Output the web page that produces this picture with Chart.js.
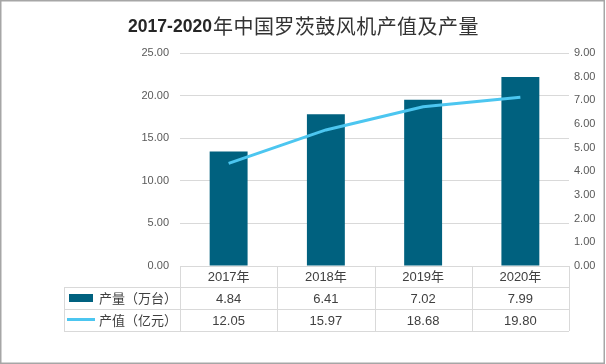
<!DOCTYPE html>
<html lang="zh">
<head>
  <meta charset="UTF-8" />
  <title>2017-2020年中国罗茨鼓风机产值及产量</title>
  <script src="https://cdn.jsdelivr.net/npm/chart.js"></script>
  <style>
    body { margin: 0; background: #fff; }
    canvas { display: block; }
  </style>
</head>
<body>
  <canvas id="chart" width="606" height="364"></canvas>
  <script>
    const titleYears = '2017-2020';
    const titleText = '年中国罗茨鼓风机产值及产量';
    const years = ['2017年', '2018年', '2019年', '2020年'];
    const outputLabel = '产量（万台）';
    const outputValues = [4.84, 6.41, 7.02, 7.99];
    const valueLabel = '产值（亿元）';
    const valueValues = [12.05, 15.97, 18.68, 19.80];
    const leftMax = 25, leftStep = 5;
    const rightMax = 9, rightStep = 1;

    const barColor = '#00617f';
    const lineColor = '#4cc6f0';
    const gridColor = '#d9d9d9';
    const textFont = "13px 'Liberation Sans', 'Noto Sans CJK SC', sans-serif";

    // title, data table under the plot and the frame
    const extras = {
      id: 'extras',
      beforeDraw(chart) {
        const ctx = chart.ctx;
        ctx.save();
        ctx.fillStyle = '#fff';
        ctx.fillRect(0, 0, chart.width, chart.height);
        ctx.restore();
      },
      afterDraw(chart) {
        const ctx = chart.ctx;
        const area = chart.chartArea;
        const colW = (area.right - area.left) / years.length;
        const tableLeft = 64;
        const rows = [area.bottom, area.bottom + 21, area.bottom + 43, area.bottom + 65];

        ctx.save();
        // title: bold digits (~84px wide), lighter chinese part (~266px wide)
        ctx.textBaseline = 'alphabetic';
        ctx.textAlign = 'left';
        ctx.font = "bold 18px 'Liberation Sans', sans-serif";
        const sizeA = Math.min(19, 18 * 84 / ctx.measureText(titleYears).width);
        const fontA = `bold ${sizeA}px 'Liberation Sans', sans-serif`;
        ctx.font = fontA;
        const wA = ctx.measureText(titleYears).width;
        const fontB = "20px 'Noto Sans CJK SC', sans-serif";
        ctx.font = fontB;
        const rawB = ctx.measureText(titleText).width;
        const gap = Math.max(0, (266 - rawB) / titleText.length);
        const tx = 303 - (wA + 266) / 2;
        ctx.fillStyle = '#262626';
        ctx.font = fontA;
        ctx.fillText(titleYears, tx, 32);
        ctx.font = fontB;
        ctx.fillStyle = '#333';
        let cx0 = tx + wA + 1;
        for (const ch of titleText) {
          ctx.fillText(ch, cx0, 34);
          cx0 += ctx.measureText(ch).width + gap;
        }

        // grid of the table
        ctx.strokeStyle = gridColor;
        ctx.lineWidth = 1;
        ctx.beginPath();
        ctx.moveTo(area.left, rows[0] + 0.5);
        ctx.lineTo(area.right, rows[0] + 0.5);
        for (let i = 1; i < rows.length; i++) {
          ctx.moveTo(tableLeft, rows[i] + 0.5);
          ctx.lineTo(area.right, rows[i] + 0.5);
        }
        ctx.moveTo(tableLeft + 0.5, rows[1]);
        ctx.lineTo(tableLeft + 0.5, rows[3]);
        for (let i = 0; i <= years.length; i++) {
          const x = Math.round(area.left + i * colW) + 0.5;
          ctx.moveTo(x, rows[0]);
          ctx.lineTo(x, rows[3]);
        }
        ctx.stroke();

        // cells
        ctx.fillStyle = '#404040';
        ctx.font = textFont;
        ctx.textBaseline = 'middle';
        ctx.textAlign = 'center';
        years.forEach((y, i) => {
          const cx = area.left + (i + 0.5) * colW;
          ctx.fillText(y, cx, (rows[0] + rows[1]) / 2 + 1);
          ctx.fillText(outputValues[i].toFixed(2), cx, (rows[1] + rows[2]) / 2 + 1);
          ctx.fillText(valueValues[i].toFixed(2), cx, (rows[2] + rows[3]) / 2 + 1);
        });

        // legend keys
        ctx.textAlign = 'left';
        ctx.fillStyle = barColor;
        ctx.fillRect(69, 294, 24, 8);
        ctx.strokeStyle = lineColor;
        ctx.lineWidth = 3;
        ctx.beginPath();
        ctx.moveTo(67, 319.5);
        ctx.lineTo(95, 319.5);
        ctx.stroke();
        ctx.fillStyle = '#404040';
        ctx.fillText(outputLabel, 99, (rows[1] + rows[2]) / 2 + 1);
        ctx.fillText(valueLabel, 99, (rows[2] + rows[3]) / 2 + 1);

        // frame
        ctx.strokeStyle = '#a6a6a6';
        ctx.lineWidth = 1.5;
        ctx.strokeRect(0.75, 0.75, chart.width - 2.5, chart.height - 1.5);
        ctx.restore();
      }
    };

    new Chart(document.getElementById('chart'), {
      data: {
        labels: years,
        datasets: [
          {
            type: 'line',
            label: valueLabel,
            data: valueValues,
            yAxisID: 'y',
            borderColor: lineColor,
            borderWidth: 3,
            pointRadius: 0,
            tension: 0,
            order: 0
          },
          {
            type: 'bar',
            label: outputLabel,
            data: outputValues,
            yAxisID: 'y1',
            backgroundColor: barColor,
            barPercentage: 0.39,
            categoryPercentage: 1,
            order: 1
          }
        ]
      },
      options: {
        responsive: false,
        animation: false,
        devicePixelRatio: 1,
        layout: { padding: { top: 53, bottom: 98, left: 0, right: 0 } },
        plugins: {
          legend: { display: false },
          title: { display: false },
          tooltip: { enabled: false }
        },
        scales: {
          x: { display: false },
          y: {
            position: 'left',
            min: 0,
            max: leftMax,
            ticks: {
              stepSize: leftStep,
              padding: 11,
              color: '#595959',
              font: { family: "'Liberation Sans', sans-serif", size: 11 },
              callback: v => v.toFixed(2)
            },
            grid: { color: gridColor, drawTicks: false },
            border: { display: false },
            afterFit: s => { s.width = 180; }
          },
          y1: {
            position: 'right',
            min: 0,
            max: rightMax,
            ticks: {
              stepSize: rightStep,
              padding: 5,
              color: '#595959',
              font: { family: "'Liberation Sans', sans-serif", size: 11 },
              callback: v => v.toFixed(2)
            },
            grid: { drawOnChartArea: false, drawTicks: false },
            border: { display: false },
            afterFit: s => { s.width = 37; }
          }
        }
      },
      plugins: [extras]
    });
  </script>
</body>
</html>
